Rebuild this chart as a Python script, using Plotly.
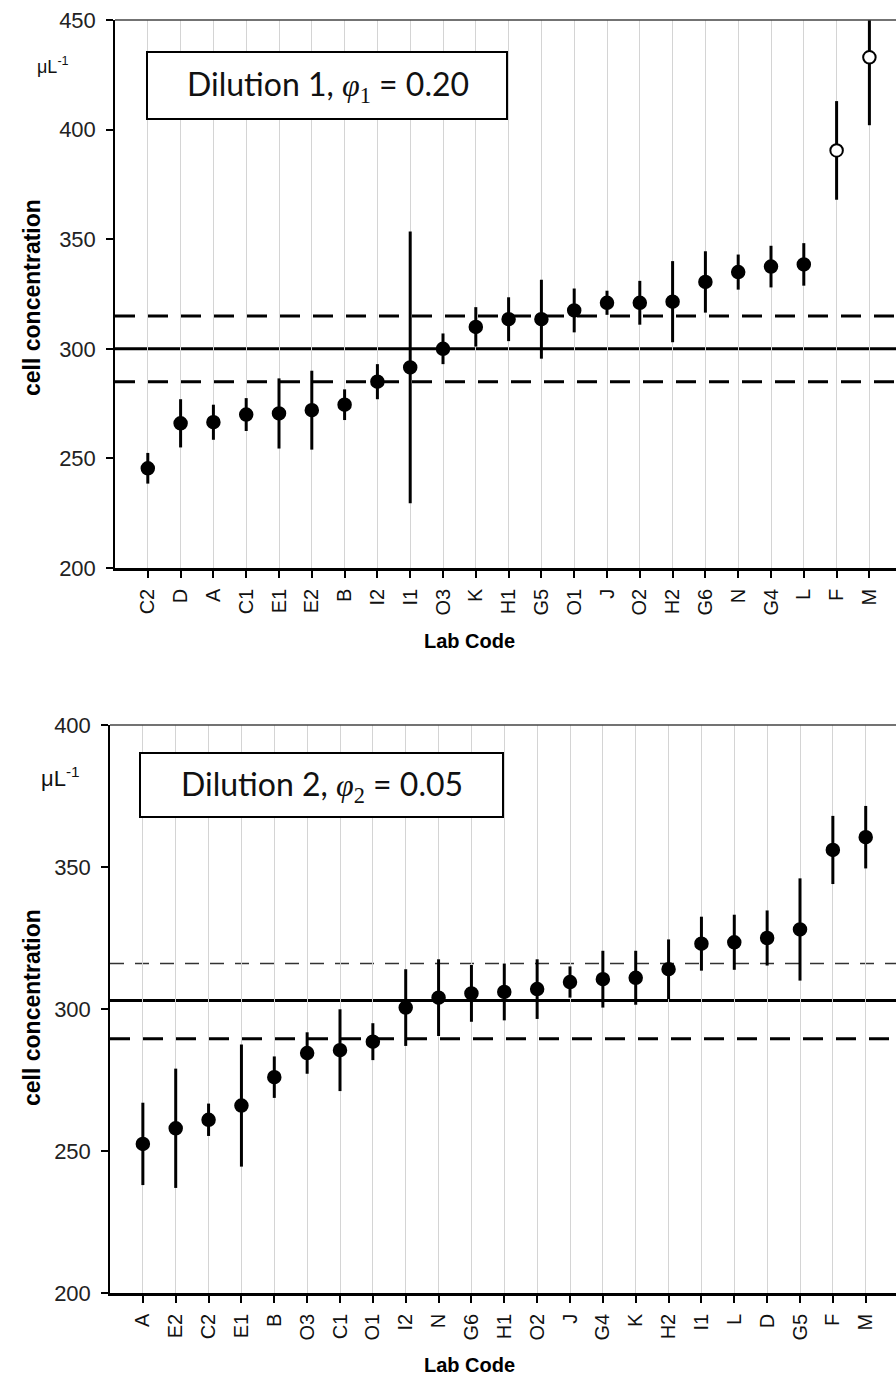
import plotly.graph_objects as go

W, H = 896, 1393

# ---------------- data ----------------
labs_1 = ["C2", "D", "A", "C1", "E1", "E2", "B", "I2", "I1", "O3", "K", "H1",
          "G5", "O1", "J", "O2", "H2", "G6", "N", "G4", "L", "F", "M"]
conc_1 = [245.5, 266, 266.5, 270, 270.5, 272, 274.5, 285, 291.5, 300, 310, 313.5,
          313.5, 317.5, 321, 321, 321.5, 330.5, 335, 337.5, 338.5, 390.5, 433]
unc_1 = [7, 11, 8, 7.5, 16, 18, 7, 8, 62, 7, 9, 10,
         18, 10, 5.5, 10, 18.5, 14, 8, 9.5, 9.7, 22.5, 31]
open_1 = ["F", "M"]
ref_1 = 300
band_1 = [285, 315]

labs_2 = ["A", "E2", "C2", "E1", "B", "O3", "C1", "O1", "I2", "N", "G6", "H1",
          "O2", "J", "G4", "K", "H2", "I1", "L", "D", "G5", "F", "M"]
conc_2 = [252.5, 258, 261, 266, 276, 284.5, 285.5, 288.5, 300.5, 304, 305.5, 306,
          307, 309.5, 310.5, 311, 314, 323, 323.5, 325, 328, 356, 360.5]
unc_2 = [14.5, 21, 5.7, 21.5, 7.3, 7.3, 14.4, 6.5, 13.5, 13.5, 10, 10,
         10.5, 5.5, 10, 9.5, 10.5, 9.5, 9.7, 9.7, 18, 12, 11]
open_2 = []
ref_2 = 303
band_2_upper = 316
band_2_lower = 289.5

yticks_1 = [200, 250, 300, 350, 400, 450]
yticks_2 = [200, 250, 300, 350, 400]

# ---------------- helpers ----------------
def px(x):
    return x / W

def py(y):
    return 1 - y / H

FONT = "Liberation Sans, Arial, sans-serif"

fig = go.Figure()

def add_panel(labs, conc, unc, opens, xa, ya):
    pos = list(range(1, len(labs) + 1))
    fills = ["white" if l in opens else "black" for l in labs]
    fig.add_trace(go.Scatter(
        x=pos, y=conc, mode="markers", xaxis=xa, yaxis=ya,
        marker=dict(size=12.5, color=fills, line=dict(color="black", width=2)),
        error_y=dict(type="data", array=unc, visible=True, color="black",
                     thickness=3, width=0),
        showlegend=False, cliponaxis=True,
    ))

add_panel(labs_1, conc_1, unc_1, open_1, "x", "y")
add_panel(labs_2, conc_2, unc_2, open_2, "x2", "y2")

def xaxis_cfg(domain, rng, labs):
    return dict(
        domain=domain, range=rng,
        tickmode="array", tickvals=list(range(1, len(labs) + 1)),
        ticktext=labs, tickangle=-90,
        tickfont=dict(family=FONT, size=20, color="#111"),
        ticks="outside", ticklen=7, tickwidth=1.5, tickcolor="black",
        showline=True, linecolor="black", linewidth=2.5,
        showgrid=True, gridcolor="#d4d4d4", gridwidth=1,
        zeroline=False, ticklabelstandoff=3, automargin=False,
    )

def yaxis_cfg(domain, rng, ticks):
    return dict(
        domain=domain, range=rng,
        tickmode="array", tickvals=ticks,
        tickfont=dict(family=FONT, size=22, color="#222"),
        ticks="outside", ticklen=7, tickwidth=1.5, tickcolor="black",
        showline=True, linecolor="black", linewidth=1.5,
        showgrid=False, zeroline=False, ticklabelstandoff=6, automargin=False,
    )

top_x0, top_step = 115, 32.8
bot_x0, bot_step = 110, 32.857

fig.update_layout(
    width=W, height=H,
    margin=dict(l=0, r=0, t=0, b=0),
    paper_bgcolor="white", plot_bgcolor="white",
    xaxis=dict(anchor="y", **xaxis_cfg([px(top_x0), 1], [0, (W - top_x0) / top_step], labs_1)),
    yaxis=dict(anchor="x", **yaxis_cfg([py(568), py(20)], [200, 450], yticks_1)),
    xaxis2=dict(anchor="y2", **xaxis_cfg([px(bot_x0), 1], [0, (W - bot_x0) / bot_step], labs_2)),
    yaxis2=dict(anchor="x2", **yaxis_cfg([py(1293), py(725)], [200, 400], yticks_2)),
)

shapes = []
def hline(xref, yref, yv, width, dash, color="black"):
    shapes.append(dict(type="line", xref=xref + " domain", yref=yref,
                       x0=0, x1=1, y0=yv, y1=yv,
                       line=dict(color=color, width=width, dash=dash), layer="below"))

hline("x", "y", ref_1, 3, "solid")
for b in band_1:
    hline("x", "y", b, 3, "20px,13px")
hline("x2", "y2", ref_2, 3, "solid")
hline("x2", "y2", band_2_upper, 1.5, "14px,11px", "#333")
hline("x2", "y2", band_2_lower, 3, "20px,13px")

# top frame lines and corner ticks
for xr, yr, ymin in (("x", "y", 200), ("x2", "y2", 200)):
    shapes.append(dict(type="line", xref=xr + " domain", yref=yr + " domain",
                       x0=0, x1=1, y0=1, y1=1,
                       line=dict(color="#444", width=1.3)))
    shapes.append(dict(type="line", xref=xr, yref=yr, ysizemode="pixel", yanchor=ymin,
                       x0=0, x1=0, y0=0, y1=-7,
                       line=dict(color="black", width=1.5)))

# label boxes
shapes.append(dict(type="rect", xref="paper", yref="paper",
                   x0=px(147), x1=px(507), y0=py(119), y1=py(52),
                   line=dict(color="black", width=2), fillcolor="white", layer="above"))
shapes.append(dict(type="rect", xref="paper", yref="paper",
                   x0=px(140), x1=px(503), y0=py(817), y1=py(753),
                   line=dict(color="black", width=2), fillcolor="white", layer="above"))
fig.update_layout(shapes=shapes)

SERIF = "font-family:'Liberation Serif','Times New Roman',serif"
def box_text(n, val):
    return (f"Dilution {n}, <span style=\"{SERIF};font-style:italic\">φ</span>"
            f"<sub><span style=\"{SERIF}\">{n}</span></sub> = {val}")

ann = []
ann.append(dict(text=box_text(1, "0.20"), x=px(328), y=py(86), xref="paper", yref="paper",
                showarrow=False, xanchor="center", yanchor="middle",
                font=dict(family="Lato, 'Open Sans', sans-serif", size=32, color="#111")))
ann.append(dict(text=box_text(2, "0.05"), x=px(322), y=py(786), xref="paper", yref="paper",
                showarrow=False, xanchor="center", yanchor="middle",
                font=dict(family="Lato, 'Open Sans', sans-serif", size=32, color="#111")))

# units
ann.append(dict(text="μL<sup>-1</sup>", x=px(53), y=py(66), xref="paper", yref="paper",
                showarrow=False, xanchor="center", yanchor="middle",
                font=dict(family=FONT, size=18, color="#111")))
ann.append(dict(text="μL<sup>-1</sup>", x=px(60), y=py(777), xref="paper", yref="paper",
                showarrow=False, xanchor="center", yanchor="middle",
                font=dict(family=FONT, size=22, color="#111")))

# axis titles
for yc in (298, 1008):
    ann.append(dict(text="<b>cell concentration</b>", x=px(32), y=py(yc), xref="paper",
                    yref="paper", showarrow=False, textangle=-90,
                    xanchor="center", yanchor="middle",
                    font=dict(family=FONT, size=23, color="black")))
for yc in (641, 1365):
    ann.append(dict(text="<b>Lab Code</b>", x=px(469), y=py(yc), xref="paper",
                    yref="paper", showarrow=False, xanchor="center", yanchor="middle",
                    font=dict(family=FONT, size=20, color="black")))
fig.update_layout(annotations=ann)

fig.write_html("out.html", config={"displayModeBar": False},
               post_script="document.body.style.margin='0';document.body.style.overflow='hidden';")
